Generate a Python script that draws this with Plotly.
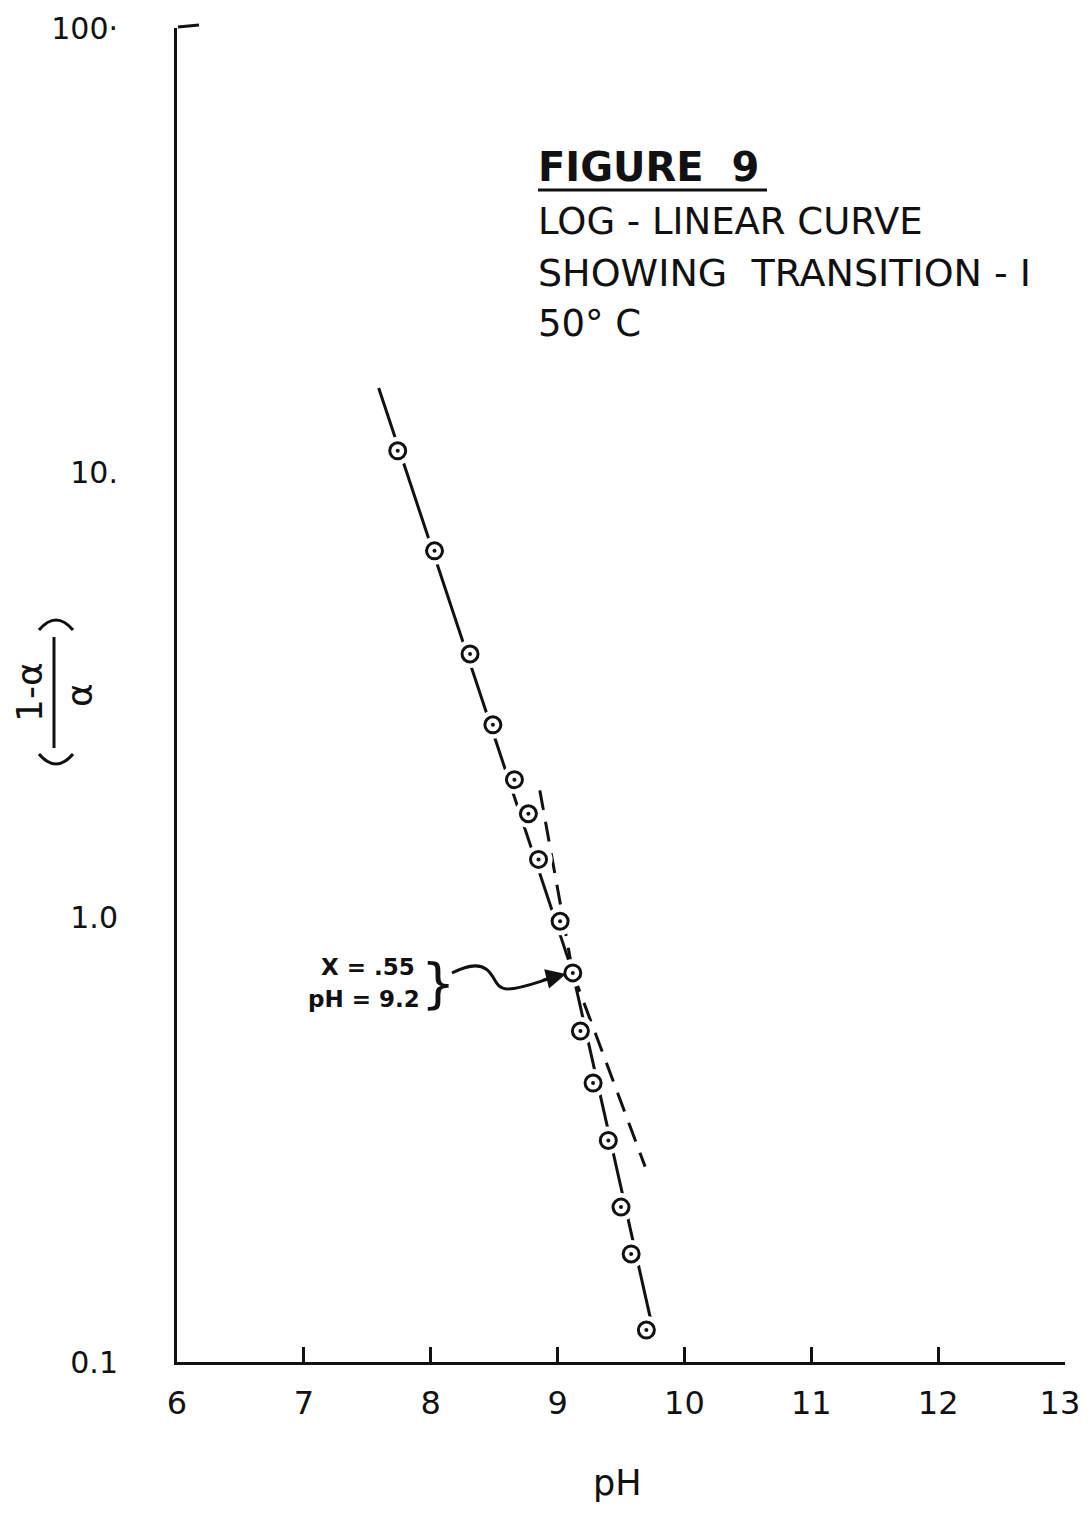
import plotly.graph_objects as go

# ---- data ----
ph = [7.74, 8.03, 8.31, 8.49, 8.66, 8.77, 8.85, 9.02, 9.12, 9.18, 9.28, 9.40, 9.50, 9.58, 9.70]
ratio = [11.2, 6.67, 3.91, 2.71, 2.04, 1.71, 1.35, 0.98, 0.75, 0.555, 0.424, 0.315, 0.223, 0.175, 0.118]

lineA_solid_x = [7.59, 9.12]
lineA_solid_y = [15.5, 0.75]
lineA_dash_x = [9.12, 9.69]
lineA_dash_y = [0.75, 0.275]
lineB_solid_x = [9.12, 9.73]
lineB_solid_y = [0.75, 0.126]
lineB_dash_x = [8.86, 9.12]
lineB_dash_y = [1.93, 0.75]

x_ticks = [6, 7, 8, 9, 10, 11, 12, 13]
x_ticktext = ["6", "7", "8", "9", "10", "11", "12", "13\u00a0"]
y_ticks = [0.1, 1, 10, 100]
y_ticktext = ["0.1", "1.0", "10.", "100·"]

# ---- layout geometry (pixels) ----
OFF = 8  # page body margin
W, H = 1073, 1498
L, R, T, B = 169, 16, 20, 144
PW = W - L - R
PH = H - T - B


def px(x):
    # x given in page pixels
    return (x - OFF - L) / PW


def py(y):
    # y given in page pixels
    return (H - B - (y - OFF)) / PH


FONT = "DejaVu Sans"
BLACK = "#111111"

fig = go.Figure()

solid = dict(color=BLACK, width=3)
dashed = dict(color=BLACK, width=3, dash="20px,12px")
fig.add_trace(go.Scatter(x=lineA_solid_x, y=lineA_solid_y, mode="lines", line=solid, hoverinfo="skip"))
fig.add_trace(go.Scatter(x=lineA_dash_x, y=lineA_dash_y, mode="lines", line=dashed, hoverinfo="skip"))
fig.add_trace(go.Scatter(x=lineB_solid_x, y=lineB_solid_y, mode="lines", line=solid, hoverinfo="skip"))
fig.add_trace(go.Scatter(x=lineB_dash_x, y=lineB_dash_y, mode="lines", line=dashed, hoverinfo="skip"))

# white halo to break lines at markers
fig.add_trace(go.Scatter(x=ph, y=ratio, mode="markers",
                         marker=dict(symbol="circle", size=28, color="white", line=dict(width=0)),
                         hoverinfo="skip"))
# open circles
fig.add_trace(go.Scatter(x=ph, y=ratio, mode="markers",
                         marker=dict(symbol="circle", size=16, color="white",
                                     line=dict(width=3, color=BLACK))))
# centre dots
fig.add_trace(go.Scatter(x=ph, y=ratio, mode="markers",
                         marker=dict(symbol="circle", size=4, color=BLACK, line=dict(width=0)),
                         hoverinfo="skip"))

shapes = []
# top flag of y axis
shapes.append(dict(type="line", xref="paper", yref="paper",
                   x0=px(178), y0=py(27), x1=px(199), y1=py(25),
                   line=dict(color=BLACK, width=3)))
# underline of FIGURE 9
shapes.append(dict(type="line", xref="paper", yref="paper",
                   x0=px(538), y0=py(190), x1=px(767), y1=py(190),
                   line=dict(color=BLACK, width=3)))
# fraction bar of y label
shapes.append(dict(type="line", xref="paper", yref="paper",
                   x0=px(54), y0=py(637), x1=px(54), y1=py(748),
                   line=dict(color=BLACK, width=3)))


def P(x, y):
    return f"{px(x):.5f},{py(y):.5f}"


# parentheses around y label
shapes.append(dict(type="path", xref="paper", yref="paper",
                   path=f"M {P(39, 630)} Q {P(56, 610)} {P(73, 630)}",
                   line=dict(color=BLACK, width=3)))
shapes.append(dict(type="path", xref="paper", yref="paper",
                   path=f"M {P(39, 754)} Q {P(56, 774)} {P(73, 754)}",
                   line=dict(color=BLACK, width=3)))
# wavy arrow shaft
shapes.append(dict(type="path", xref="paper", yref="paper",
                   path=(f"M {P(452, 973)} C {P(462, 968)} {P(476, 962)} {P(486, 969)} "
                         f"C {P(496, 976)} {P(494, 988)} {P(507, 989)} "
                         f"C {P(520, 989)} {P(535, 983)} {P(548, 979)}"),
                   line=dict(color=BLACK, width=3)))

annotations = []
# arrow head
annotations.append(dict(xref="paper", yref="paper", x=px(566), y=py(974), ax=-24, ay=6,
                        showarrow=True, arrowhead=2, arrowsize=1.6, arrowwidth=2.5,
                        arrowcolor=BLACK, text=""))


def txt(x, y, s, size, bold=False, xanchor="left"):
    annotations.append(dict(xref="paper", yref="paper", x=px(x), y=py(y),
                            text=(f"<b>{s}</b>" if bold else s),
                            showarrow=False, xanchor=xanchor, yanchor="middle",
                            font=dict(family=FONT, size=size, color=BLACK)))


# title block
txt(536, 167, "FIGURE  9", 40, bold=True)
txt(536, 222, "LOG - LINEAR CURVE", 37)
txt(536, 273, "SHOWING  TRANSITION - I", 38)
txt(536, 323, "50° C", 37)

# annotation of the transition point
txt(319, 967, "<b>X = .55</b>", 23)
txt(306, 999, "<b>pH = 9.2</b>", 23)
annotations.append(dict(xref="paper", yref="paper", x=px(438), y=py(983), text="}",
                        showarrow=False, xanchor="center", yanchor="middle",
                        font=dict(family=FONT, size=54, color=BLACK)))

# y axis label pieces (rotated)
annotations.append(dict(xref="paper", yref="paper", x=px(29), y=py(692), text="1-α",
                        textangle=-90, showarrow=False, xanchor="center", yanchor="middle",
                        font=dict(family=FONT, size=36, color=BLACK)))
annotations.append(dict(xref="paper", yref="paper", x=px(79), y=py(695), text="α",
                        textangle=-90, showarrow=False, xanchor="center", yanchor="middle",
                        font=dict(family=FONT, size=36, color=BLACK)))

# x axis title
annotations.append(dict(xref="paper", yref="paper", x=px(617), y=py(1483), text="pH",
                        showarrow=False, xanchor="center", yanchor="middle",
                        font=dict(family=FONT, size=35, color=BLACK)))

fig.update_layout(
    width=W, height=H,
    margin=dict(l=L, r=R, t=T, b=B, autoexpand=False),
    paper_bgcolor="white", plot_bgcolor="white",
    showlegend=False,
    shapes=shapes, annotations=annotations,
    xaxis=dict(range=[6, 13], tickvals=x_ticks, ticktext=x_ticktext, automargin=False,
               showline=True, linewidth=3, linecolor=BLACK,
               ticks="inside", ticklen=15, tickwidth=3, tickcolor=BLACK,
               ticklabelstandoff=11, ticklabeloverflow="allow",
               showgrid=False, zeroline=False,
               tickfont=dict(family=FONT, size=32, color=BLACK)),
    yaxis=dict(type="log", range=[-1, 2], tickvals=y_ticks, ticktext=y_ticktext, automargin=False,
               showline=True, linewidth=3, linecolor=BLACK,
               ticks="", ticklabelstandoff=50, showgrid=False, zeroline=False,
               tickfont=dict(family=FONT, size=30, color=BLACK)),
)

fig.write_html("out.html", config={"displayModeBar": False})
